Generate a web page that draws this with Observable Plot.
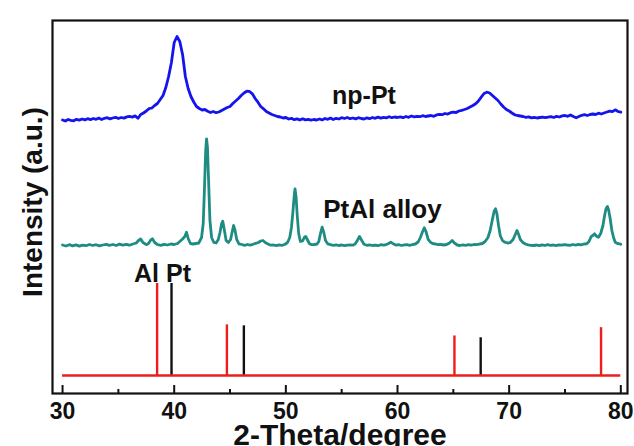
<!DOCTYPE html>
<html><head><meta charset="utf-8">
<script src="https://cdn.jsdelivr.net/npm/d3@7"></script>
<script src="https://cdn.jsdelivr.net/npm/@observablehq/plot@0.6"></script>
<style>html,body{margin:0;padding:0;background:#fff}</style>
</head><body><div id="chart"></div>
<script>
// ---- data ----
// np-Pt pattern: intensity above its own baseline, sampled every 0.25 deg from 30 to 80
const npPtStart = 30, npPtStep = 0.25;
const npPt = [
 0.5,-0.5,1.0,0.2, -0.3,1.2,0.4,1.5, 0.6,1.8,0.9,2.0, 1.2,2.4,1.0,2.2, 2.8,1.6,2.5,3.2,
 2.0,3.0,2.4,3.6, 4.2,3.4,4.6,2.2, 6.0,7.5,9.5,11.8, 12.5,15.0,17.0,21.0, 25.0,33.0,44.0,58.0,
 78.0,84.0,79.0,66.0, 44.0,32.0,24.0,18.5, 14.0,12.0,10.5,11.0, 9.3,8.0,9.0,7.8, 8.5,10.0,11.5,13.0,
 14.0,17.0,19.5,22.0, 25.0,27.5,29.3,29.0, 26.7,22.0,18.3,14.0, 11.7,9.0,7.5,6.0, 5.0,4.0,3.5,2.5,
 3.0,1.5,2.2,0.8, 1.6,0.5,1.8,0.6, 1.2,0.3,1.0,0.5, 1.5,0.6,2.0,1.2, 2.4,1.0,2.2,1.5,
 2.8,2.0,3.0,1.8, 2.5,1.6,2.8,2.0, 1.5,2.6,1.8,3.0, 2.2,3.4,2.4,3.2, 2.6,3.8,2.8,3.5,
 3.0,3.6,2.8,4.0, 3.2,4.5,3.6,4.2, 3.8,4.8,4.0,4.5, 5.0,4.2,5.6,6.2, 5.8,7.0,6.4,7.8,
 8.3,8.0,9.5,10.2, 11.0,12.0,13.5,15.0, 16.7,19.5,23.3,27.0, 28.3,27.5,25.0,22.5, 20.0,16.5,13.5,11.0,
 9.5,7.5,5.7,5.0, 4.5,4.0,3.2,3.6, 2.7,3.2,2.5,3.0, 3.4,2.8,3.3,3.8, 3.0,4.2,3.5,4.6,
 5.0,4.2,5.5,4.0, 2.7,4.0,5.2,5.8, 5.0,6.0,6.5,6.0, 7.3,6.5,7.5,8.5, 9.3,8.8,10.7,9.0,
 8.3
];
// PtAl alloy pattern: [2-theta, intensity above its own baseline]
const ptAlAlloy = [
 [30.0,0.5],[30.3,-0.5],[30.6,0.8],[30.9,-0.3],[31.2,0.6],[31.5,-0.6],[31.8,0.4],[32.1,-0.2],[32.4,1.0],[32.7,0],
 [33.0,0.8],[33.3,-0.4],[33.6,0.5],[33.9,1.2],[34.2,0.2],[34.5,1.0],[34.8,0],[35.1,1.4],[35.4,0.4],[35.7,1.2],
 [36.0,0.3],[36.3,1.5],[36.6,2.5],[36.8,5.0],[37.0,6.5],[37.2,3.0],[37.5,0.8],[37.7,2.0],[37.9,5.5],[38.05,6.7],
 [38.25,3.0],[38.5,1.0],[38.8,0.2],[39.1,1.2],[39.4,0.5],[39.7,1.5],[40.0,1.0],[40.3,2.0],[40.55,4.5],[40.75,6.5],
 [40.95,9.0],[41.1,13.3],[41.25,7.0],[41.45,2.0],[41.7,1.5],[41.95,2.0],[42.2,2.5],[42.45,8.0],[42.6,22.0],[42.72,60.0],
 [42.82,95.0],[42.9,106.7],[42.98,98.0],[43.08,65.0],[43.2,25.0],[43.35,8.0],[43.55,3.0],[43.75,2.5],[43.95,6.0],[44.1,13.0],
 [44.25,22.0],[44.35,24.3],[44.5,15.0],[44.65,5.0],[44.85,3.0],[45.05,6.0],[45.2,14.0],[45.32,20.0],[45.45,15.0],[45.6,6.0],
 [45.8,1.7],[46.05,1.0],[46.3,0.2],[46.55,1.0],[46.8,0.4],[47.05,1.2],[47.3,2.2],[47.55,3.0],[47.75,4.5],[47.95,5.0],
 [48.15,3.0],[48.4,1.5],[48.65,0.3],[48.9,0.5],[49.15,-0.2],[49.4,0.6],[49.65,0.2],[49.9,1.0],[50.15,3.0],[50.35,8.0],
 [50.5,18.0],[50.62,32.0],[50.75,50.0],[50.82,56.7],[50.92,48.0],[51.02,30.0],[51.15,12.0],[51.3,4.0],[51.5,4.5],[51.65,8.0],
 [51.78,9.0],[51.92,6.0],[52.1,2.0],[52.3,0.8],[52.55,1.0],[52.8,1.5],[52.95,4.0],[53.1,12.0],[53.25,18.3],[53.4,13.0],
 [53.55,5.0],[53.75,1.7],[54.0,0.8],[54.25,0.2],[54.5,0.6],[54.75,0],[55.0,0.5],[55.25,-0.2],[55.5,0.4],[55.75,0.6],
 [56.0,0.3],[56.2,1.5],[56.4,5.0],[56.6,9.0],[56.8,5.0],[57.0,1.2],[57.25,0.2],[57.5,0.6],[57.75,0],[58.0,0.4],
 [58.25,-0.2],[58.5,0.8],[58.75,0.3],[59.0,0.9],[59.2,2.0],[59.4,3.3],[59.6,1.8],[59.85,0.4],[60.1,0.8],[60.35,0],
 [60.6,0.6],[60.85,0.9],[61.1,0.2],[61.35,1.0],[61.6,1.5],[61.85,3.5],[62.05,8.0],[62.25,14.0],[62.4,17.7],[62.55,14.0],
 [62.75,6.0],[62.95,3.3],[63.15,2.0],[63.4,1.5],[63.65,0.8],[63.9,1.0],[64.15,0.5],[64.4,1.0],[64.65,2.5],[64.9,5.0],
 [65.1,2.5],[65.35,0.5],[65.6,0],[65.85,0.6],[66.1,0.2],[66.35,0.9],[66.6,0.4],[66.85,1.0],[67.1,0.8],[67.35,1.5],
 [67.6,2.0],[67.85,4.0],[68.1,8.0],[68.3,15.0],[68.5,26.0],[68.65,34.0],[68.78,36.7],[68.9,32.0],[69.05,20.0],[69.2,10.0],
 [69.4,5.0],[69.6,3.3],[69.85,2.5],[70.1,3.0],[70.35,6.0],[70.55,11.0],[70.7,15.0],[70.85,11.0],[71.0,6.0],[71.2,3.3],
 [71.45,1.5],[71.7,0.6],[71.95,0.2],[72.2,0],[72.45,0.5],[72.7,-0.2],[72.95,0.6],[73.2,0],[73.45,0.8],[73.7,0.2],
 [73.95,0.5],[74.2,-0.1],[74.45,0.7],[74.7,0.3],[74.95,0.9],[75.2,0.5],[75.45,0.2],[75.7,1.0],[75.95,0.4],[76.2,1.2],
 [76.45,0.6],[76.7,1.5],[76.95,1.7],[77.15,4.0],[77.35,9.0],[77.5,10.0],[77.65,11.7],[77.85,9.0],[78.0,8.3],[78.2,12.0],
 [78.4,20.0],[78.55,30.0],[78.68,37.0],[78.8,39.0],[78.92,35.0],[79.05,26.7],[79.2,15.0],[79.35,8.0],[79.5,3.3],[79.7,2.0],
 [79.9,1.7],[80.0,1.2]
];
// reference stick patterns
const alTheta = [38.47, 44.72, 65.10, 78.23];
const alIntensity = [100, 55, 43, 52];
const ptTheta = [39.76, 46.24, 67.45];
const ptIntensity = [100, 54, 41];
// axis
const xTicks = [30, 40, 50, 60, 70, 80];
const xMinorTicks = [35, 45, 55, 65, 75];
const xLabel = "2-Theta/degree";
const yLabel = "Intensity (a.u.)";
const seriesLabels = ["np-Pt", "PtAl alloy", "Al Pt"];

// ---- layout / style ----
const W = 634, H = 446, mL = 52, mR = 7, mT = 20, mB = 53;
const plotH = H - mT - mB;
const npOffset = 273, alloyOffset = 148, refBase = 18, stickScale = 0.92;
const BLUE = "#1414ee", TEAL = "#1f8c83", RED = "#ee1d1d", BLACK = "#111";
const FONT = "'Liberation Sans', Arial, Helvetica, sans-serif";

const al = alTheta.map((t, i) => ({theta: t, I: alIntensity[i]}));
const pt = ptTheta.map((t, i) => ({theta: t, I: ptIntensity[i]}));
const midLabels = [
  {text: seriesLabels[0], theta: 57.0, y: npOffset + 25, size: 25},
  {text: seriesLabels[1], theta: 58.65, y: alloyOffset + 36, size: 26}
];
const refLabel = [{text: seriesLabels[2], theta: 36.4, y: refBase + 102}];

const chart = Plot.plot({
  width: W, height: H,
  marginLeft: mL, marginRight: mR, marginTop: mT, marginBottom: mB,
  x: {domain: [29.1, 80.6]},
  y: {domain: [0, plotH], axis: null},
  style: {fontFamily: FONT, fontWeight: "bold", color: BLACK, background: "#fff"},
  marks: [
    Plot.lineY(npPt, {x: (d, i) => npPtStart + i * npPtStep, y: d => d + npOffset,
      stroke: BLUE, strokeWidth: 2.8, strokeLinejoin: "round"}),
    Plot.line(ptAlAlloy, {x: d => d[0], y: d => d[1] + alloyOffset,
      stroke: TEAL, strokeWidth: 2.8, strokeLinejoin: "round"}),
    Plot.ruleX(pt, {x: "theta", y1: refBase, y2: d => refBase + d.I * stickScale, stroke: BLACK, strokeWidth: 2.4}),
    Plot.ruleX(al, {x: "theta", y1: refBase, y2: d => refBase + d.I * stickScale, stroke: RED, strokeWidth: 2.4}),
    Plot.ruleY([refBase], {x1: xTicks[0], x2: xTicks[xTicks.length - 1], stroke: RED, strokeWidth: 2.6}),
    Plot.frame({stroke: BLACK, strokeWidth: 2.2}),
    Plot.tickX(xTicks, {x: d => d, insetTop: plotH - 8, stroke: BLACK, strokeWidth: 2}),
    Plot.tickX(xMinorTicks, {x: d => d, insetTop: plotH - 4, stroke: BLACK, strokeWidth: 2}),
    Plot.axisX(xTicks, {tickSize: 0, tickPadding: 9, label: null, fontSize: 23, fontWeight: "bold", fill: BLACK}),
    Plot.text(midLabels.slice(0, 1), {x: "theta", y: "y", text: "text", textAnchor: "middle", fontSize: 25, fontWeight: "bold", fill: BLACK}),
    Plot.text(midLabels.slice(1), {x: "theta", y: "y", text: "text", textAnchor: "middle", fontSize: 26, fontWeight: "bold", fill: BLACK}),
    Plot.text(refLabel, {x: "theta", y: "y", text: "text", textAnchor: "start", fontSize: 25, fontWeight: "bold", fill: BLACK}),
    Plot.text([yLabel], {frameAnchor: "left", textAnchor: "middle", lineAnchor: "middle", rotate: -90, dx: -19, dy: -5, fontSize: 28, fontWeight: "bold", fill: BLACK}),
    Plot.text([xLabel], {frameAnchor: "bottom", textAnchor: "middle", lineAnchor: "bottom", dy: 51, fontSize: 30, fontWeight: "bold", fill: BLACK})
  ]
});
document.getElementById("chart").appendChild(chart);
</script>
</body></html>
